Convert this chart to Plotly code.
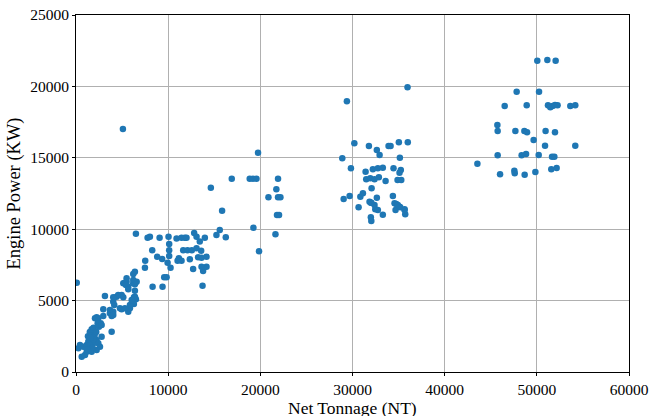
import plotly.graph_objects as go

net_tonnage = [
    80,
    250, 430, 620, 790, 980, 1160, 1160, 1340, 1520, 1520, 1700, 1700, 1880, 1880, 2060, 2240, 2240, 2420, 2600, 2780,
    1300, 1500, 1700, 1900, 2000, 1400, 1600, 1800, 2100, 1200, 1900, 2200, 1600,
    2060, 2240, 2420, 2680, 2350, 2490, 2780, 3870,
    2960, 2960, 3680, 4040, 3680, 3870, 4040,
    4950, 5670, 5850, 4040, 4150,
    3140, 4410, 4580, 4950, 5130, 6390, 6500, 6280,
    5130, 5490, 5670, 6210, 6580,
    6210, 6390, 6500, 7480, 7510, 5490, 5310, 5420, 5670, 6210, 6390, 6390, 6280,
    7770, 8020, 9070, 10040, 10110, 10110, 10110, 10910, 11450, 11810, 11990, 12820, 13080, 13430, 13980,
    8270, 11630, 12100, 12570, 13080, 13580,
    8810, 9350, 9940, 10260, 11160, 11450, 11020, 12350, 13250, 13620, 14160,
    12710, 13790, 14160, 13620, 13730,
    8310, 9390, 9570, 9830,
    4040, 4770, 5310, 5850, 6040,
    14630, 15850, 15600, 15240, 16250, 16900, 18850, 19210, 19580, 19750, 21920, 21740, 20880, 21920, 22180,
    21810, 22030, 19250, 21640, 19860,
    5090,
    35970, 29390, 30200, 31780, 32640, 32940, 33910, 34130, 35030, 36000, 28890, 35140, 29830, 31420, 32210,
    32750, 33290, 34450, 35240, 35100, 31490, 31930, 32390, 32860, 33590, 34890, 35290, 32070, 29040, 29690,
    30850, 31130, 32640, 34380, 31990, 34750, 35100, 35650, 35720, 30660, 32470, 33290, 31990, 32040,
    31850, 32040, 32390, 32750, 34560, 34670, 34920, 35180, 35650,
    50050, 51140, 52040, 47810, 50240, 46510, 48900, 51210, 51460, 51710, 51970, 52250, 53630, 54170,
    45720, 45750, 47670, 48650, 48940, 50950, 51970, 49650, 50890, 54170, 45750, 48350, 48830, 50200,
    51650, 51900, 43550, 46010, 47560, 47600, 48680, 49840, 51570, 52150,
]

engine_power = [
    6250,
    1660, 1890, 1070, 1770, 1190, 1890, 1420, 2120, 2590, 1660, 2360, 1420, 2940, 2010, 2710, 2240, 1540, 2010, 1770, 2470,
    2500, 2800, 3000, 3100, 2500, 2200, 1900, 1700, 2100, 1600, 2300, 2800, 2400,
    3760, 3830, 3760, 3410, 3410, 3170, 3290, 2820,
    4390, 3920, 4340, 4220, 4110, 3920, 3990,
    4390, 4220, 4460, 4920, 4690,
    5320, 5270, 5390, 5390, 5230, 5270, 5090, 4760,
    6210, 6320, 5970, 6210, 6320,
    6860, 7020, 9690, 7300, 7790, 6560, 6250, 6090, 5790, 6440, 6140, 5690, 5230,
    9400, 9480, 9400, 9480, 8960, 8520, 8120, 9340, 9400, 9400, 9400, 9730, 9480, 9130, 9400,
    8520, 8520, 8520, 8520, 8660, 8490,
    8070, 7910, 7650, 7300, 7960, 7790, 7790, 7890, 8030, 8000, 8070,
    7210, 7070, 7370, 7370, 6040,
    5970, 5970, 6630, 6630,
    5230, 4460, 4460, 4690, 5040,
    12910, 11300, 9940, 9590, 9430, 13540, 13540, 13540, 13540, 15360, 13540, 12790, 12230, 12230, 12230,
    10990, 10990, 10100, 9640, 8450,
    17020,
    19940, 18960, 16020, 15830, 15550, 15200, 15830, 15830, 16090, 16090, 14970, 15010, 14270, 14030, 14200,
    14270, 14310, 14270, 14150, 13960, 13490, 13560, 13490, 13630, 13380, 13450, 13450, 12860, 12120, 12330,
    12280, 12510, 12210, 12330, 11860, 11770, 11580, 11390, 11040, 11530, 11390, 11020, 10830, 10570,
    11930, 11850, 11690, 11350, 11810, 11350, 11690, 11530, 11350,
    21800, 21850, 21800, 19630, 19630, 18630, 18680, 18680, 18540, 18630, 18700, 18680, 18630, 18680,
    17300, 16880, 16880, 16880, 16790, 16880, 16790, 16250, 15850, 15850, 15180, 15180, 15270, 15200,
    15080, 15080, 14590, 13840, 14100, 13910, 13820, 14010, 14200, 14290,
]

x_ticks = [0, 10000, 20000, 30000, 40000, 50000, 60000]
y_ticks = [0, 5000, 10000, 15000, 20000, 25000]
x_title = "Net Tonnage (NT)"
y_title = "Engine Power (KW)"

fig = go.Figure()
fig.add_trace(go.Scatter(
    x=net_tonnage, y=engine_power, mode="markers",
    marker=dict(color="#1f77b4", size=6.5, line=dict(width=0)),
    showlegend=False,
))

font_family = "Liberation Serif"
axis_common = dict(
    showline=True, linecolor="black", linewidth=1, mirror=True,
    ticks="outside", ticklen=3, tickcolor="black", tickwidth=1,
    showgrid=True, gridcolor="#b0b0b0", gridwidth=1, zeroline=False,
    automargin=False,
    tickfont=dict(family=font_family, size=15.5, color="black"),
)
fig.update_xaxes(range=[0, 60000], tickvals=x_ticks, ticktext=[str(v) for v in x_ticks], **axis_common)
fig.update_yaxes(range=[0, 25000], tickvals=y_ticks, ticktext=[str(v) for v in y_ticks],
                 title=dict(text=y_title, font=dict(family=font_family, size=18.5, color="black"), standoff=4),
                 **axis_common)
fig.add_annotation(
    text=x_title, xref="paper", yref="paper", x=0.5, y=-0.1,
    xanchor="center", yanchor="middle", showarrow=False,
    font=dict(family=font_family, size=17.5, color="black"),
)
fig.update_layout(
    width=649, height=416,
    margin=dict(l=76, r=20, t=15, b=44),
    plot_bgcolor="white", paper_bgcolor="white",
    font=dict(family=font_family, color="black"),
)
fig.write_html("out.html")
